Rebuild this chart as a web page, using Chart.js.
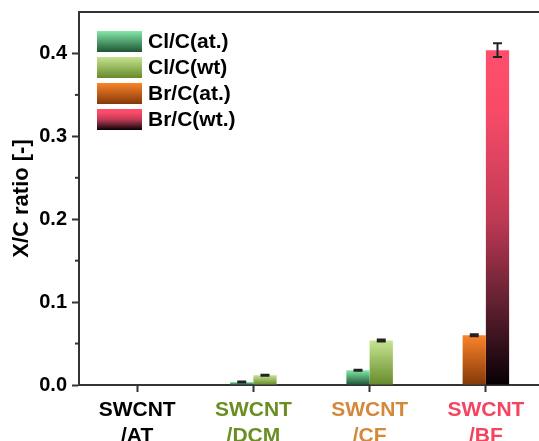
<!DOCTYPE html>
<html>
<head>
<meta charset="utf-8">
<script src="https://cdn.jsdelivr.net/npm/chart.js@4.4.0/dist/chart.umd.min.js"></script>
<style>
    html, body { margin: 0; padding: 0; background: #fff; overflow: hidden; }
    #wrap { width: 546px; height: 441px; }
</style>
</head>
<body>
<div id="wrap"><canvas id="myChart"></canvas></div>
<script>
// categories and colours of their labels
const categories = [['SWCNT', '/AT'], ['SWCNT', '/DCM'], ['SWCNT', '/CF'], ['SWCNT', '/BF']];
const categoryColors = ['#000000', '#6b8e23', '#d4893a', '#f2455f'];

// series (null = no bar in that group)
const seriesNames = ['Cl/C(at.)', 'Cl/C(wt)', 'Br/C(at.)', 'Br/C(wt.)'];
const clAt = [null, 0.0035, 0.0178, null];
const clWt = [null, 0.0118, 0.0536, null];
const brAt = [null, null, null, 0.0600];
const brWt = [null, null, null, 0.4040];

// error bars (+/-)
const clAtErr = [null, 0.0006, 0.0007, null];
const clWtErr = [null, 0.0007, 0.0012, null];
const brAtErr = [null, null, null, 0.0013];
const brWtErr = [null, null, null, 0.0082];

// axis ticks
const yTicks = [0, 0.1, 0.2, 0.3, 0.4];
const yMinorTicks = [0.05, 0.15, 0.25, 0.35];

// gradient stops per series (top -> bottom of bar)
const gradients = [
    [[0, '#84e8aa'], [1, '#1d5533']],
    [[0, '#c6e491'], [1, '#668a2a']],
    [[0, '#fb8429'], [1, '#843808']],
    [[0, '#ff4e6b'], [0.18, '#f84b68'], [0.5, '#c03a55'], [0.76, '#602030'], [1, '#080004']]
];

function barGradient(stops) {
    return function (context) {
        const chart = context.chart;
        const v = context.raw;
        if (!chart.chartArea || v == null) return stops[0][1];
        const y = chart.scales.y;
        const g = chart.ctx.createLinearGradient(0, y.getPixelForValue(v), 0, y.getPixelForValue(0));
        stops.forEach(s => g.addColorStop(s[0], s[1]));
        return g;
    };
}

// draws error bars on top of the bars
const errorBars = {
    id: 'errorBars',
    afterDatasetsDraw(chart) {
        const ctx = chart.ctx;
        const y = chart.scales.y;
        ctx.save();
        ctx.strokeStyle = '#222';
        ctx.lineWidth = 2;
        chart.data.datasets.forEach((ds, i) => {
            const meta = chart.getDatasetMeta(i);
            meta.data.forEach((bar, j) => {
                const v = ds.data[j], e = ds.errors[j];
                if (v == null || e == null) return;
                const yt = y.getPixelForValue(v + e);
                const yb = y.getPixelForValue(v - e);
                const x = bar.x;
                ctx.beginPath();
                ctx.moveTo(x, yt); ctx.lineTo(x, yb);
                ctx.moveTo(x - 4.5, yt); ctx.lineTo(x + 4.5, yt);
                ctx.moveTo(x - 4.5, yb); ctx.lineTo(x + 4.5, yb);
                ctx.stroke();
            });
        });
        ctx.restore();
    }
};

// top frame line, minor ticks and the legend inside the plot
const frameAndLegend = {
    id: 'frameAndLegend',
    afterDraw(chart) {
        const ctx = chart.ctx;
        const a = chart.chartArea;
        const y = chart.scales.y;
        ctx.save();
        ctx.strokeStyle = '#333';
        ctx.lineWidth = 2;
        ctx.beginPath();
        ctx.moveTo(a.left - 1, a.top);
        ctx.lineTo(a.right, a.top);
        ctx.stroke();
        yMinorTicks.forEach(v => {
            const py = y.getPixelForValue(v);
            ctx.beginPath();
            ctx.moveTo(a.left - 4, py);
            ctx.lineTo(a.left, py);
            ctx.stroke();
        });

        // legend
        const lx = a.left + 18, ly = a.top + 19;
        ctx.font = 'bold 21px Arial';
        ctx.textBaseline = 'middle';
        seriesNames.forEach((name, i) => {
            const by = ly + i * 26;
            const g = ctx.createLinearGradient(0, by, 0, by + 21);
            gradients[i].forEach(s => g.addColorStop(s[0], s[1]));
            ctx.fillStyle = g;
            ctx.fillRect(lx, by, 45, 21);
            ctx.fillStyle = '#000';
            ctx.fillText(name, lx + 51, by + 11);
        });
        ctx.restore();
    }
};

const values = [clAt, clWt, brAt, brWt];
const errors = [clAtErr, clWtErr, brAtErr, brWtErr];

const ctx = document.getElementById('myChart').getContext('2d');
const myChart = new Chart(ctx, {
    type: 'bar',
    data: {
        labels: categories,
        datasets: seriesNames.map((name, i) => ({
            label: name,
            data: values[i],
            errors: errors[i],
            backgroundColor: barGradient(gradients[i]),
            borderWidth: 0,
            skipNull: true,
            categoryPercentage: 0.4,
            barPercentage: 1.0
        }))
    },
    options: {
        responsive: true,
        maintainAspectRatio: false,
        animation: false,
        layout: { padding: { top: 12, right: 2, left: 0, bottom: 0 } },
        plugins: {
            legend: { display: false },
            tooltip: { enabled: false }
        },
        scales: {
            x: {
                offset: true,
                grid: { display: true, offset: false, drawOnChartArea: false, drawTicks: true, tickLength: 7, tickWidth: 2, tickColor: '#333' },
                border: { display: true, color: '#333', width: 2 },
                ticks: {
                    autoSkip: false,
                    maxRotation: 0,
                    padding: 5,
                    font: { family: 'Arial', size: 21, weight: 'bold', lineHeight: '26px' },
                    color: c => categoryColors[c.index]
                },
                afterFit: scale => { scale.height = 56; }
            },
            y: {
                min: 0,
                max: 0.45,
                afterBuildTicks: scale => { scale.ticks = yTicks.map(v => ({ value: v })); },
                grid: { display: true, drawOnChartArea: false, drawTicks: true, tickLength: 7, tickWidth: 2, tickColor: '#333' },
                border: { display: true, color: '#333', width: 2 },
                ticks: {
                    padding: 5,
                    color: '#000',
                    font: { family: 'Arial', size: 20, weight: 'bold' },
                    callback: v => Number(v).toFixed(1)
                },
                title: {
                    display: true,
                    text: 'X/C ratio [-]',
                    color: '#000',
                    font: { family: 'Arial', size: 22, weight: 'bold' },
                    padding: { top: 9, bottom: 0 }
                },
                afterFit: scale => {
                    scale.width = 79;
                    scale.paddingTop = 0;
                    scale.paddingBottom = 0;
                }
            }
        }
    },
    plugins: [errorBars, frameAndLegend]
});
</script>
</body>
</html>
